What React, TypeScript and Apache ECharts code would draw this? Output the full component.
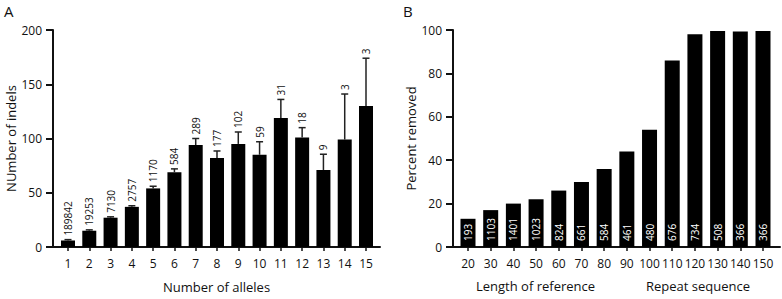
import React, { useEffect, useRef } from "react";
import * as echarts from "echarts";

const allelesA = [1, 2, 3, 4, 5, 6, 7, 8, 9, 10, 11, 12, 13, 14, 15];
const indelsA = [6, 15, 27, 37, 54, 69, 94, 82, 95, 85, 119, 101, 71, 99, 130];
const errUpperA = [6.8, 15.8, 27.8, 38, 56, 72, 100, 88.5, 106, 97, 136, 110, 85.5, 141, 174];
const countsA = ["189842", "19253", "7130", "2757", "1170", "584", "289", "177", "102", "59", "31", "18", "9", "3", "3"];

const lengthsB = [20, 30, 40, 50, 60, 70, 80, 90, 100, 110, 120, 130, 140, 150];
const percentB = [13, 17, 20, 22, 26, 30, 36, 44, 54, 86, 98, 99.5, 99.3, 99.5];
const countsB = ["193", "1103", "1401", "1023", "824", "661", "584", "461", "480", "676", "734", "508", "366", "366"];

const yTicksA = [0, 50, 100, 150, 200];
const yTicksB = [0, 20, 40, 60, 80, 100];

const FONT = "Open Sans";
const INK = "#111";

export default function App() {
  const ref = useRef<HTMLDivElement>(null);
  useEffect(() => {
    if (!ref.current) return;
    const chart = echarts.init(ref.current, null, { renderer: "svg" });
    const axisLine = { show: true, lineStyle: { color: INK, width: 2 } };
    const commonX = (min: number, max: number, vals: number[], gi: number) => ({
      type: "value" as const,
      gridIndex: gi,
      min,
      max,
      splitLine: { show: false },
      axisLine,
      axisTick: { show: true, length: 4, lineStyle: { color: INK, width: 1.5 }, customValues: vals },
      axisLabel: { customValues: vals, color: INK, fontSize: 12, fontFamily: FONT, margin: 10 },
    });
    const commonY = (max: number, interval: number, name: string, gi: number) => ({
      type: "value" as const,
      gridIndex: gi,
      min: 0,
      max,
      interval,
      name,
      nameLocation: "middle" as const,
      nameGap: 36,
      nameTextStyle: { color: INK, fontSize: 13, fontFamily: FONT },
      splitLine: { show: false },
      axisLine,
      axisTick: { show: true, length: 7, lineStyle: { color: INK, width: 2 } },
      axisLabel: { color: INK, fontSize: 12, fontFamily: FONT, margin: 11 },
    });
    chart.setOption({
      animation: false,
      grid: [
        { left: 53, width: 327, top: 30, height: 217 },
        { left: 453, width: 327, top: 30, height: 217 },
      ],
      xAxis: [
        {
          ...commonX(1 - 15 / 21.29, 15 + 14 / 21.29, allelesA, 0),
          name: "Number of alleles",
          nameLocation: "middle",
          nameGap: 33,
          nameTextStyle: { color: INK, fontSize: 13, fontFamily: FONT },
        },
        commonX(20 - 150 / 22.69, 150 + 170 / 22.69, lengthsB, 1),
      ],
      yAxis: [commonY(200, 50, "NUmber of indels", 0), commonY(100, 20, "Percent removed", 1)],
      graphic: [
        { type: "text", left: 4, top: 3, style: { text: "A", fontSize: 15, fontFamily: FONT, fill: INK } },
        { type: "text", left: 403, top: 3, style: { text: "B", fontSize: 15, fontFamily: FONT, fill: INK } },
        { type: "text", left: 476, top: 279, style: { text: "Length of reference", fontSize: 13, fontFamily: FONT, fill: INK } },
        { type: "text", left: 646, top: 279, style: { text: "Repeat sequence", fontSize: 13, fontFamily: FONT, fill: INK } },
      ],
      series: [
        {
          type: "bar",
          xAxisIndex: 0,
          yAxisIndex: 0,
          barWidth: 14,
          itemStyle: { color: "#000" },
          data: allelesA.map((a, i) => [a, indelsA[i]]),
        },
        {
          type: "custom",
          xAxisIndex: 0,
          yAxisIndex: 0,
          clip: false,
          z: 3,
          data: allelesA.map((a, i) => [a, indelsA[i], errUpperA[i]]),
          encode: { x: 0, y: [1, 2] },
          renderItem: (params: any, api: any) => {
            const x = api.value(0);
            const pBar = api.coord([x, api.value(1)]);
            const pTop = api.coord([x, api.value(2)]);
            const st = { stroke: "#222", lineWidth: 1.5 };
            return {
              type: "group",
              children: [
                { type: "line", shape: { x1: pBar[0], y1: pBar[1], x2: pTop[0], y2: pTop[1] }, style: st },
                { type: "line", shape: { x1: pTop[0] - 3.5, y1: pTop[1], x2: pTop[0] + 3.5, y2: pTop[1] }, style: st },
                {
                  type: "text",
                  x: pTop[0],
                  y: pTop[1] - 4,
                  rotation: Math.PI / 2,
                  style: {
                    text: countsA[params.dataIndex],
                    fontSize: 10,
                    fontFamily: FONT,
                    fill: INK,
                    align: "left",
                    verticalAlign: "middle",
                  },
                },
              ],
            };
          },
        },
        {
          type: "bar",
          xAxisIndex: 1,
          yAxisIndex: 1,
          barWidth: 15,
          itemStyle: { color: "#000" },
          data: lengthsB.map((l, i) => [l, percentB[i]]),
          label: {
            show: true,
            position: "insideBottom",
            rotate: 90,
            align: "left",
            verticalAlign: "middle",
            distance: 6,
            color: "#fff",
            fontSize: 10,
            fontFamily: FONT,
            formatter: (p: any) => countsB[p.dataIndex],
          },
        },
      ],
    });
    return () => chart.dispose();
  }, []);
  return <div ref={ref} style={{ position: "fixed", left: 0, top: 0, width: 782, height: 299, background: "#fff" }} />;
}
